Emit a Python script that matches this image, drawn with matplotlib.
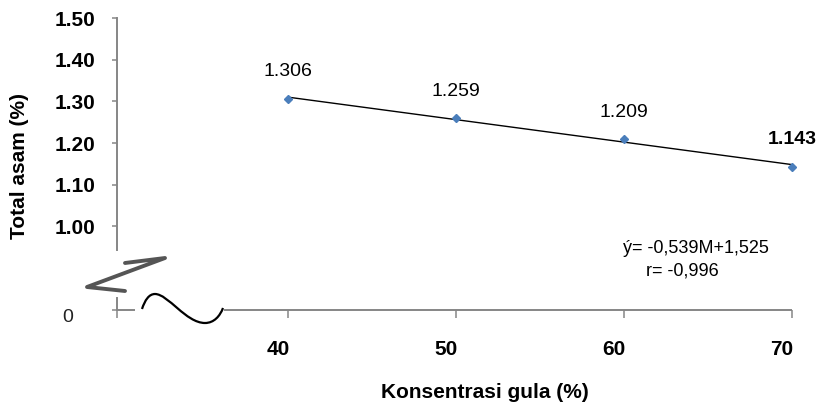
import matplotlib

matplotlib.use("Agg")
import matplotlib.pyplot as plt
import matplotlib.transforms as mtransforms
import numpy as np
from matplotlib.lines import Line2D
from matplotlib.patches import PathPatch
from matplotlib.path import Path

# data: total asam vs konsentrasi gula
konsentrasi = [40, 50, 60, 70]
total_asam = [1.306, 1.259, 1.209, 1.143]
label_nilai = ["1.306", "1.259", "1.209", "1.143"]
y_ticks = [1.00, 1.10, 1.20, 1.30, 1.40, 1.50]
x_ticks = [40, 50, 60, 70]
persamaan = "ý= -0,539M+1,525"
korelasi = "r= -0,996"

W, H = 819, 408
GRAY = "#868686"
BLUE = "#4A7EBB"

plt.rcParams["font.family"] = ["Liberation Sans", "DejaVu Sans"]

fig = plt.figure(figsize=(W / 100, H / 100), dpi=100)


def fx(px):
    return px / W


def fy(py):
    return 1 - py / H


left, right = fx(117), fx(792)
ax = fig.add_axes([left, fy(250), right - left, fy(18) - fy(250)])
axb = fig.add_axes([left, fy(310), right - left, fy(298) - fy(310)])

x_lo, x_hi = 29.8, 70.0
for a in (ax, axb):
    a.set_xlim(x_lo, x_hi)
    for s in ("top", "right", "bottom"):
        a.spines[s].set_visible(False)
    a.spines["left"].set_color(GRAY)
    a.spines["left"].set_linewidth(1.4)
    a.patch.set_alpha(0)

# upper part of the broken y axis
ax.set_ylim(0.9436, 1.50)
ax.set_yticks(y_ticks, [f"{v:.2f}" for v in y_ticks])
ax.set_xticks([])
ax.tick_params(axis="y", direction="out", length=3.6, width=1.1, color=GRAY,
               pad=12, labelsize=15)
for lbl in ax.get_yticklabels():
    lbl.set_fontweight("bold")

# lower strip carrying the x axis and the zero
axb.set_ylim(0, 1)
axb.set_yticks([0], ["0"])
axb.tick_params(axis="y", direction="out", length=3.6, width=1.1, color=GRAY,
                pad=28, labelsize=14, labelcolor="#222222")
axb.set_xticks([x_lo] + x_ticks, [""] + [str(v) for v in x_ticks])
axb.tick_params(axis="x", direction="out", length=5.8, width=1.1, color=GRAY,
                pad=16, labelsize=15)
for lbl in axb.get_xticklabels():
    lbl.set_fontweight("bold")
    lbl.set_transform(lbl.get_transform()
                      + mtransforms.ScaledTranslation(-0.10, 0, fig.dpi_scale_trans))
for lbl in axb.get_yticklabels():
    lbl.set_transform(lbl.get_transform()
                      + mtransforms.ScaledTranslation(0, -0.06, fig.dpi_scale_trans))

brk0, brk1 = 30.9, 36.2
axb.plot([x_lo, brk0], [0, 0], color=GRAY, lw=1.4, clip_on=False, solid_capstyle="butt")
axb.plot([brk1, x_hi], [0, 0], color=GRAY, lw=1.4, clip_on=False, solid_capstyle="butt")

# trend line from least squares fit, then the measured points
coef = np.polyfit(konsentrasi, total_asam, 1)
xs = np.array([min(konsentrasi), max(konsentrasi)])
ax.plot(xs, np.polyval(coef, xs), color="black", lw=1.0, zorder=2)
ax.plot(konsentrasi, total_asam, "D", color=BLUE, ms=4.5, zorder=3, clip_on=False)

for i, (x, y, t) in enumerate(zip(konsentrasi, total_asam, label_nilai)):
    ax.annotate(t, (x, y), xytext=(0, 19.5), textcoords="offset points",
                ha="center", va="center", fontsize=14,
                fontweight="bold" if i == len(label_nilai) - 1 else "normal")

ax.text(64.3, 0.946, persamaan, ha="center", va="center", fontsize=13, clip_on=False)
ax.text(63.5, 0.893, korelasi, ha="center", va="center", fontsize=13, clip_on=False)

fig.text(fx(485), fy(392), "Konsentrasi gula (%)", ha="center", va="center",
         fontsize=15, fontweight="bold")
fig.text(fx(20), fy(166), "Total asam (%)", ha="center", va="center",
         fontsize=15, fontweight="bold", rotation=90)

# axis break symbols
wave_px = [(142, 309), (145, 300), (149, 294), (155, 294),
           (168, 294), (186, 323), (205, 323),
           (214, 323), (220, 316), (223, 308)]
codes = [Path.MOVETO] + [Path.CURVE4] * 9
wave = Path([(fx(px), fy(py)) for px, py in wave_px], codes)
fig.add_artist(PathPatch(wave, transform=fig.transFigure, facecolor="none",
                         edgecolor="black", lw=1.6))

zig_px = [(125, 263), (165, 258), (87, 287), (125, 291)]
fig.add_artist(Line2D([fx(p[0]) for p in zig_px], [fy(p[1]) for p in zig_px],
                      transform=fig.transFigure, color="#555555", lw=2.8,
                      solid_joinstyle="round", solid_capstyle="round"))

fig.savefig("out.png", dpi=100)
